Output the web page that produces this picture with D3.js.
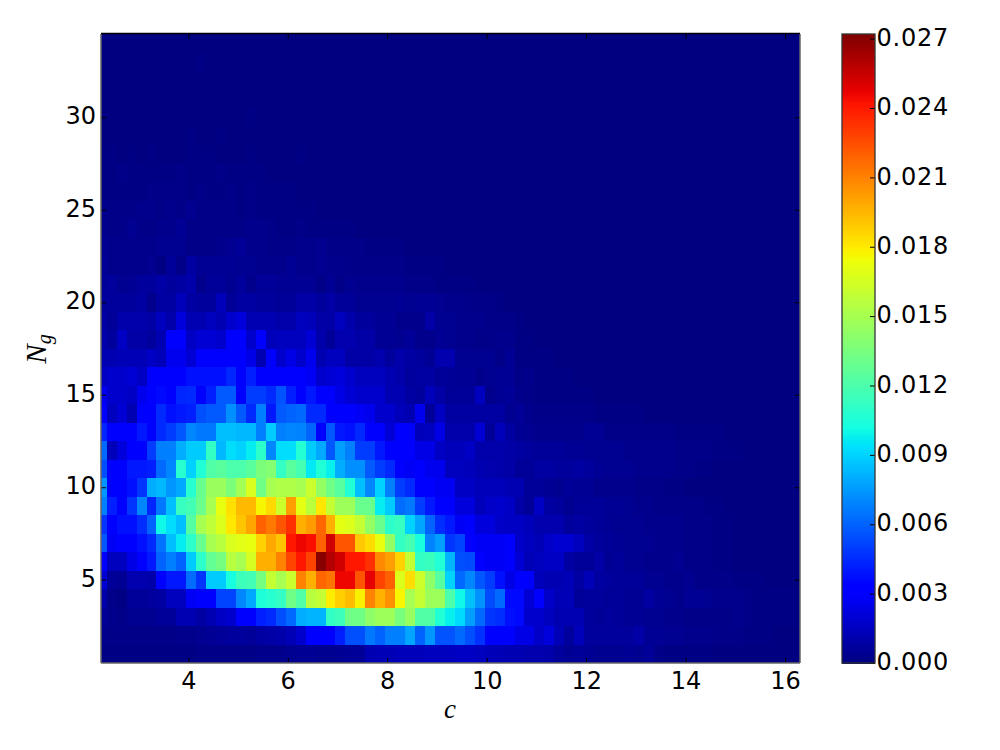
<!DOCTYPE html>
<html><head><meta charset="utf-8">
<script src="https://cdn.jsdelivr.net/npm/d3@7"></script>
<style>html,body{margin:0;padding:0;background:#fff}svg{display:block}
.axis text,.cb text{font-family:"DejaVu Sans";font-size:24px;fill:#000}
.cb text{letter-spacing:.75px}
.axis path,.cb path{display:none}.axis line,.cb line{stroke:#000;stroke-width:1}
.lab{font-family:"Liberation Serif";font-style:italic;fill:#000}</style></head><body>
<script>
// densities in units of 1e-4; each row is one Ng value (1 upward), cells beyond the list are ~0
const ng1=[1,1,1,1,1,1,1,1,1,1,2,2,2,2,2,2,3,3,3,4,5,5,4,4,5,6,6,12,13,13,14,14,14,15,15,15,16,16,15,14,13,12,12,11,11,10,7,5,6,5,4,4,4,5,4,6,2,1,1,1,1,1];
const ng2=[3,2,2,2,2,2,2,2,3,3,4,5,6,7,7,6,8,9,10,13,18,33,30,34,42,55,55,66,60,68,68,78,60,74,56,56,62,55,47,33,33,33,24,24,17,22,13,7,14,7,7,7,7,7,9,5,5,4,4,3,3,3,2,2,2,1,1,1];
const ng3=[5,3,2,4,4,4,6,6,12,12,8,12,16,18,32,32,42,45,55,62,80,82,82,112,115,132,132,142,147,147,135,145,122,122,106,98,92,76,62,48,46,38,36,18,18,15,12,12,12,7,6,7,6,5,5,4,4,3,3,2,2,2,2,2,3,2,1,1,1,1,1];
const ng4=[10,2,1,6,6,7,8,15,15,28,33,33,52,52,70,79,105,108,112,132,122,156,160,179,188,193,178,210,196,206,177,150,160,147,147,120,100,85,73,54,62,36,36,20,30,17,13,13,6,7,7,6,6,5,5,8,5,4,3,5,5,4,3,3,3,2,1,1,1,1,1];
const ng5=[20,6,5,11,11,10,33,40,40,63,48,88,88,103,115,117,134,160,150,162,210,197,218,214,246,246,223,248,228,220,168,184,163,142,124,90,62,70,57,50,38,24,33,30,14,12,12,13,8,13,8,7,6,6,6,4,4,3,3,4,2,2,2,2,1,1,1];
const ng6=[34,15,15,24,33,40,60,68,60,88,110,128,134,156,150,166,197,197,210,228,241,228,270,260,253,241,241,234,208,202,187,160,112,114,106,82,55,54,33,28,28,30,20,13,15,16,16,8,6,6,9,5,6,4,4,3,3,3,4,2,2,2,1,1];
const ng7=[57,28,30,30,38,45,65,85,97,110,130,150,156,167,170,172,187,199,191,241,246,243,220,253,223,223,190,184,172,144,112,118,103,69,76,48,52,33,28,28,28,30,17,15,13,17,19,19,15,9,7,6,5,4,4,4,3,3,3,2,2,2,1,1];
const ng8=[48,30,38,38,46,60,100,93,85,123,150,158,168,181,191,200,220,213,223,234,197,203,218,197,171,168,160,144,130,110,113,90,78,60,46,40,28,33,22,22,17,16,16,14,11,11,11,7,8,7,6,5,4,4,4,3,3,3,3,2,2,2,1,1];
const ng9=[68,42,33,48,70,44,66,85,113,117,131,150,172,183,194,194,177,185,163,202,171,157,181,160,147,147,130,130,97,88,63,66,50,40,33,33,22,22,14,17,18,16,9,6,16,8,7,4,6,6,6,5,5,4,3,3,2,2,2,2,2,1,1];
const ng10=[74,30,30,38,48,80,83,74,79,108,130,146,146,136,149,167,132,150,153,153,150,162,144,132,124,106,85,70,90,68,50,45,33,30,27,27,16,16,14,14,14,12,12,6,6,5,4,6,5,5,3,3,3,3,2,2,2,1,1];
const ng11=[55,33,33,40,40,42,62,70,108,90,106,122,125,120,120,125,136,139,112,125,118,96,106,98,80,72,72,58,50,45,33,28,33,26,26,15,15,14,12,11,10,9,6,6,8,8,7,7,8,7,5,4,4,4,3,3,3,3,2,2,1,1];
const ng12=[62,14,22,30,30,50,68,68,80,88,88,112,83,93,90,97,110,70,93,93,107,88,79,57,76,68,50,50,40,33,33,30,24,24,16,14,14,16,10,10,10,9,8,7,6,6,6,5,5,4,4,4,4,3,3,3,3,3,2,2,2,2,1,1,1];
const ng13=[44,33,33,33,40,33,45,50,57,70,66,66,85,85,83,83,68,88,68,70,69,61,34,57,40,38,45,33,33,20,30,33,14,15,24,10,10,10,20,6,14,8,5,4,3,3,3,3,3,5,5,2,2,2,2,2,2,2,1,1,1,1,1];
const ng14=[33,15,20,12,30,30,45,38,40,42,55,58,58,72,58,45,68,40,58,60,62,45,45,30,30,30,28,26,18,18,14,12,26,6,16,8,8,8,8,8,8,4,6,3,2,2,2,2,2,2,1,1,1,1,1];
const ng15=[26,18,18,16,26,33,36,33,44,45,33,42,58,58,33,50,50,45,56,42,33,40,33,33,24,20,18,18,18,12,12,8,7,14,9,6,6,6,15,3,5,6,3,2,1,1,1,1,1,1];
const ng16=[16,18,18,20,16,30,34,30,33,38,38,38,38,44,30,42,33,33,33,33,33,28,18,20,22,18,15,15,15,12,10,7,8,8,6,6,5,5,3,4,5,5,2,3,1,1,1,1];
const ng17=[12,12,13,13,13,16,14,26,26,20,33,33,33,33,30,24,12,30,18,24,18,26,12,15,15,9,9,9,11,7,10,8,7,5,11,11,4,4,4,4,2,5,1,1,1,1];
const ng18=[10,7,16,9,9,7,12,30,30,16,20,20,18,30,30,18,30,14,15,15,15,20,10,6,11,11,9,9,5,5,4,6,3,3,5,4,3,3,2,2,3,3,1,1];
const ng19=[8,6,10,10,10,9,15,10,22,12,12,15,12,18,22,12,12,12,10,10,15,14,9,9,15,10,7,7,5,5,3,3,3,9,4,4,3,3,3,2,2,2,1];
const ng20=[7,7,7,7,8,3,8,8,14,8,7,7,14,6,8,8,7,7,6,6,9,9,7,9,6,6,4,4,4,4,5,4,5,5,4,3,3,2,2,2,1];
const ng21=[6,7,4,5,7,7,9,7,8,10,3,6,6,4,7,3,6,6,5,5,5,5,2,5,2,4,3,3,3,3,3,2,2,2,1,1,1,1];
const ng22=[5,3,3,3,3,4,1,6,2,8,5,5,5,5,4,4,3,3,3,5,3,3,4,3,3,2,2,2,2,2,2,1,1,1,1];
const ng23=[4,3,3,3,3,3,4,4,4,2,2,2,3,4,6,3,3,2,2,2,3,3,4,2,2,2,2,1,1,1,1];
const ng24=[3,2,2,4,2,2,3,3,5,2,2,2,2,2,2,3,3,2,1,1,2,1,1,1,1,1];
const ng25=[3,2,2,2,3,3,2,3,2,4,2,2,2,2,1,2,1,1,1,1,1,1];
const ng26=[1,1,1,1,1,2,2,2,2,1,2,1,1,2,1,2,1,1,1,1];
const ng27=[1,1,2,1,1,1,1,1,2,1,1,1,2,1,1,1,1];
const ng28=[1,1,0,1,0,1,0,0,0,1,1,1,0,0,0,1,0,0,0,0,1];
const ng29=[0,0,0,0,0,0,0,0,0,1,0,0,1];
const ng30=[0,0,0,0,0,0,0,0,0,0,0,0,0,0,0,1];
const ng31=[];
const ng32=[];
const ng33=[0,0,0,0,0,0,0,0,0,0,1];
const ng34=[];
const rows=[ng1,ng2,ng3,ng4,ng5,ng6,ng7,ng8,ng9,ng10,ng11,ng12,ng13,ng14,ng15,ng16,ng17,ng18,ng19,ng20,ng21,ng22,ng23,ng24,ng25,ng26,ng27,ng28,ng29,ng30,ng31,ng32,ng33,ng34];
const cBins=d3.range(71).map(k=>2.26+0.2*k);
const xTicks=[4,6,8,10,12,14,16];
const yTicks=[5,10,15,20,25,30];
const cbTicks=[0,0.003,0.006,0.009,0.012,0.015,0.018,0.021,0.024,0.027];
const vmax=0.0272;

const W=1000,H=750,L=101,R=800,T=34,B=663,CL=842,CR=875;
const svg=d3.select('body').append('svg').attr('width',W).attr('height',H);
const x=d3.scaleLinear().domain([2.245,16.3]).range([L,R]);
const y=d3.scaleLinear().domain([0.5,34.5]).range([B,T]);
const rS=d3.scaleLinear().domain([0,.35,.66,.89,1]).range([0,0,1,1,.5]).clamp(true);
const gS=d3.scaleLinear().domain([0,.125,.375,.64,.91,1]).range([0,0,1,1,0,0]).clamp(true);
const bS=d3.scaleLinear().domain([0,.11,.34,.65,1]).range([.5,1,1,0,0]).clamp(true);
const jet=t=>`rgb(${Math.round(rS(t)*255)},${Math.round(gS(t)*255)},${Math.round(bS(t)*255)})`;
const norm=d3.scaleLinear().domain([0,vmax]).range([0,1]);

svg.append('clipPath').attr('id','ax').append('rect').attr('x',L).attr('y',T).attr('width',R-L).attr('height',B-T);
const cells=rows.flatMap((r,i)=>cBins.map((c,k)=>({c,ng:i+1,v:(r[k]||0)*1e-4})));
svg.append('g').attr('clip-path','url(#ax)').selectAll('rect').data(cells).join('rect')
 .attr('x',d=>x(d.c-0.1)).attr('width',d=>x(d.c+0.1)-x(d.c-0.1)+0.3)
 .attr('y',d=>y(d.ng+0.5)).attr('height',d=>y(d.ng-0.5)-y(d.ng+0.5)+0.3)
 .attr('fill',d=>jet(norm(d.v))).attr('shape-rendering','crispEdges');

const tk=g=>g.attr('class','axis');
svg.append('g').call(tk).attr('transform',`translate(0,${B})`).call(d3.axisBottom(x).tickValues(xTicks).tickFormat(d3.format('d')).tickSizeInner(-5).tickSizeOuter(0).tickPadding(9));
svg.append('g').call(tk).attr('transform',`translate(${L},0)`).call(d3.axisLeft(y).tickValues(yTicks).tickFormat(d3.format('d')).tickSizeInner(-5).tickSizeOuter(0).tickPadding(5)).selectAll('text').attr('dy','0.28em');
svg.append('g').call(tk).attr('transform',`translate(0,${T})`).call(d3.axisTop(x).tickValues(xTicks).tickFormat('').tickSizeInner(-5).tickSizeOuter(0));
svg.append('g').call(tk).attr('transform',`translate(${R},0)`).call(d3.axisRight(y).tickValues(yTicks).tickFormat('').tickSizeInner(-5).tickSizeOuter(0));
const spine=(x1,y1,x2,y2,col)=>svg.append('line').attr('x1',x1).attr('y1',y1).attr('x2',x2).attr('y2',y2).attr('stroke',col).attr('stroke-width',1.5);
spine(L,B,R,B,'#666');spine(L,T,L,B,'#666');spine(R,T,R,B,'#666');spine(L,T-.5,R,T-.5,'#000');

svg.append('text').attr('class','lab').attr('x',450).attr('y',718).attr('text-anchor','middle').attr('font-size',27).text('c');
const yl=svg.append('text').attr('class','lab').attr('transform','translate(46,349) rotate(-90)').attr('text-anchor','middle').attr('font-size',29);
yl.append('tspan').text('N');
yl.append('tspan').attr('dy',5).attr('font-size',20).text('g');

const cy=d3.scaleLinear().domain([0,vmax]).range([B,T]);
const levels=d3.range(256).map(i=>i/256*vmax);
svg.append('g').selectAll('rect').data(levels).join('rect')
 .attr('x',CL).attr('width',CR-CL).attr('y',d=>cy(d+vmax/256)).attr('height',d=>cy(d)-cy(d+vmax/256)+0.5)
 .attr('fill',d=>jet(norm(d+vmax/512))).attr('shape-rendering','crispEdges');
svg.append('g').attr('class','cb').attr('transform',`translate(${CR},0)`).call(d3.axisRight(cy).tickValues(cbTicks).tickFormat(d3.format('.3f')).tickSizeInner(-5).tickSizeOuter(0).tickPadding(1.5)).selectAll('text').attr('dy','0.28em');
svg.append('rect').attr('x',CL).attr('y',T).attr('width',CR-CL).attr('height',B-T).attr('fill','none').attr('stroke','#333').attr('stroke-width',1.3);
</script></body></html>
